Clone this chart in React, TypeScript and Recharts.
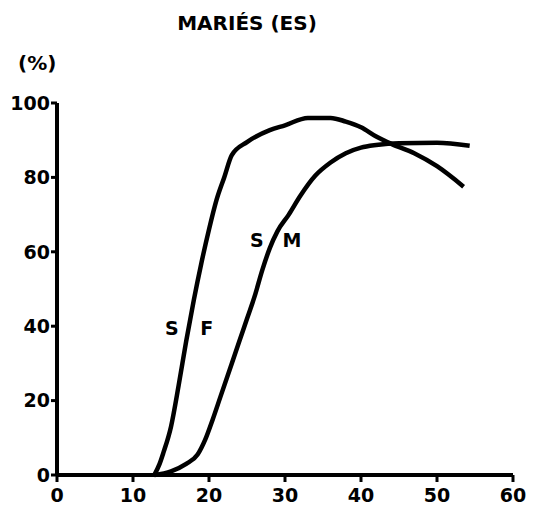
import { LineChart, Line, XAxis, YAxis, ReferenceDot } from "recharts";

// married share (%) by age
const sfAges = [12.8, 13.5, 14, 15, 16, 17, 18, 19, 20, 21, 22, 23, 25, 28, 30, 33, 36, 38, 40, 42, 44, 47, 50, 53.5];
const sfValues = [0, 3, 6, 13, 24, 36, 47, 57, 66, 74, 80, 86, 89.5, 92.7, 94, 96, 96, 95, 93.5, 91, 89, 86.5, 83, 77.5];

const smAges = [12.8, 15, 17, 18.5, 19.5, 20.5, 21.5, 23, 24, 25, 26, 27, 28, 29, 30.5, 32, 34, 36, 38, 40, 42, 45, 50, 54.3];
const smValues = [0, 1, 3, 5.5, 9.5, 15, 21, 30, 36, 42, 48, 55, 61, 65.5, 70, 75, 80.5, 84, 86.5, 88, 88.7, 89.2, 89.3, 88.5];

const xTicks = [0, 10, 20, 30, 40, 50, 60];
const yTicks = [0, 20, 40, 60, 80, 100];

const sfData = sfAges.map((age, i) => ({ age, value: sfValues[i] }));
const smData = smAges.map((age, i) => ({ age, value: smValues[i] }));

const font = "'DejaVu Sans', sans-serif";
const ink = "#000";

const curveLabels = [
  { x: 15.1, y: 39.5, text: "S" },
  { x: 19.7, y: 39.5, text: "F" },
  { x: 26.3, y: 63, text: "S" },
  { x: 30.9, y: 63, text: "M" },
];

export default function App() {
  return (
    <div style={{ position: "absolute", left: 0, top: 0, width: 542, height: 510, background: "#fff" }}>
      <div
        style={{
          position: "absolute",
          left: 0,
          width: 494,
          top: 11,
          textAlign: "center",
          fontFamily: font,
          fontWeight: "bold",
          fontSize: 20,
        }}
      >
        MARIÉS (ES)
      </div>
      <div
        style={{
          position: "absolute",
          left: 18,
          top: 51,
          fontFamily: font,
          fontWeight: "bold",
          fontSize: 20,
        }}
      >
        (%)
      </div>
      <LineChart
        width={542}
        height={510}
        margin={{ top: 103, right: 29, bottom: 0, left: 0 }}
        style={{ position: "absolute", left: 0, top: 0 }}
      >
        <XAxis
          dataKey="age"
          type="number"
          domain={[0, 60]}
          ticks={xTicks}
          height={35}
          stroke={ink}
          axisLine={{ stroke: ink, strokeWidth: 4 }}
          tickLine={{ stroke: ink, strokeWidth: 3 }}
          tickSize={7}
          tick={{ fill: ink, fontSize: 19, fontWeight: "bold", fontFamily: font, dy: 5 }}
          allowDataOverflow
        />
        <YAxis
          type="number"
          domain={[0, 100]}
          ticks={yTicks}
          width={57}
          stroke={ink}
          axisLine={{ stroke: ink, strokeWidth: 4 }}
          tickLine={{ stroke: ink, strokeWidth: 3 }}
          tickSize={6}
          tickMargin={1}
          tick={{ fill: ink, fontSize: 19, fontWeight: "bold", fontFamily: font }}
        />
        <Line
          data={sfData}
          dataKey="value"
          type="monotone"
          stroke={ink}
          strokeWidth={4.5}
          dot={false}
          isAnimationActive={false}
        />
        <Line
          data={smData}
          dataKey="value"
          type="monotone"
          stroke={ink}
          strokeWidth={4.5}
          dot={false}
          isAnimationActive={false}
        />
        {curveLabels.map((l, i) => (
          <ReferenceDot
            key={i}
            x={l.x}
            y={l.y}
            r={0}
            stroke="none"
            label={{
              value: l.text,
              position: "center",
              fill: ink,
              fontSize: 19,
              fontWeight: "bold",
              fontFamily: font,
            }}
          />
        ))}
      </LineChart>
    </div>
  );
}
